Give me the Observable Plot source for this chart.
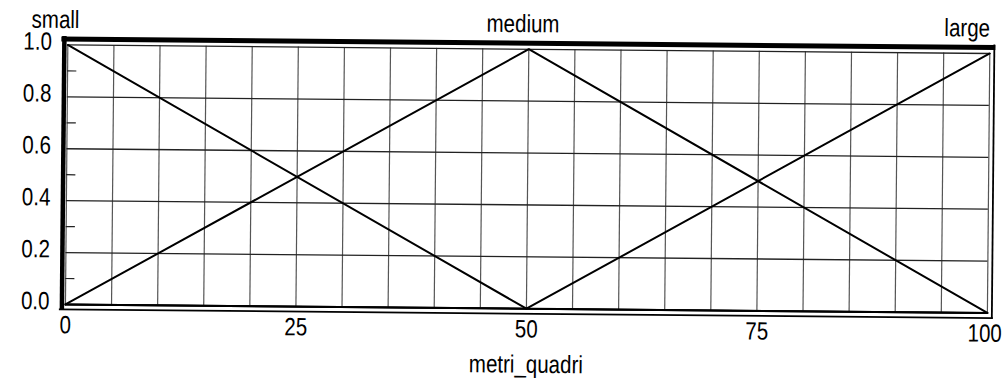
<!DOCTYPE html>
<html>
<head>
<meta charset="utf-8">
<script src="https://cdn.jsdelivr.net/npm/d3@7"></script>
<script src="https://cdn.jsdelivr.net/npm/@observablehq/plot@0.6"></script>
<style>
  html, body { margin: 0; padding: 0; background: #ffffff; }
  #wrap { width: 1007px; height: 382px; transform: rotate(0.53deg); transform-origin: 503.5px 191px; }
</style>
</head>
<body>
<div id="wrap"></div>
<script>
// membership-function names and their label positions
const mfNames = ["small", "medium", "large"];
const mfPeaks = [0, 50, 100];
// breakpoints along metri_quadri
const xPts = [0, 50, 100];
// membership values at the breakpoints
const smallVals = [1, 0, 0];
const mediumVals = [0, 1, 0];
const largeVals = [0, 0, 1];
// ticks / grid
const xTicks = [0, 25, 50, 75, 100];
const xGrid = d3.range(0, 101, 5);
const yTicks = [0, 0.2, 0.4, 0.6, 0.8, 1.0];
const yMinor = [0.1, 0.3, 0.5, 0.7, 0.9];
const xLabel = "metri_quadri";

const series = [
  {name: "small", vals: smallVals},
  {name: "medium", vals: mediumVals},
  {name: "large", vals: largeVals}
];
const lineData = series.flatMap(s => xPts.map((x, i) => ({name: s.name, x, y: s.vals[i]})));
const labelData = mfNames.map((n, i) => ({name: n, x: mfPeaks[i]}));
const labelDx = {small: -12.5, medium: -6, large: 0};

const FONT = "'Liberation Sans', Arial, sans-serif";

const chart = Plot.plot({
  width: 1007,
  height: 382,
  marginLeft: 66,
  marginRight: 19,
  marginTop: 48.5,
  marginBottom: 74,
  style: {fontFamily: FONT, fontSize: "25px", background: "#ffffff", color: "#000"},
  x: {domain: [0, 100], label: null},
  y: {domain: [0, 1], label: null},
  marks: [
    // grid
    Plot.ruleX(xGrid, {stroke: "#555", strokeWidth: 1.2}),
    Plot.ruleY(yTicks, {stroke: "#222", strokeWidth: 1.3}),
    Plot.ruleY(yMinor, {x1: 0, x2: 1, stroke: "#222", strokeWidth: 1.2}),
    // outer frame: thick top/left, thin bottom/right
    Plot.ruleY([1], {dy: -6, strokeWidth: 5, stroke: "#000", insetLeft: -6, insetRight: -6}),
    Plot.ruleX([0], {dx: -3.5, strokeWidth: 4.5, stroke: "#000", insetTop: -8.5, insetBottom: -6}),
    Plot.ruleY([0], {dy: 5, strokeWidth: 1.8, stroke: "#000", insetLeft: -6, insetRight: -6}),
    Plot.ruleX([100], {dx: 4.5, strokeWidth: 1.8, stroke: "#000", insetTop: -8.5, insetBottom: -6}),
    Plot.ruleY([0], {stroke: "#000", strokeWidth: 2}),
    // membership functions
    Plot.line(lineData, {x: "x", y: "y", z: "name", stroke: "#000", strokeWidth: 2}),
    // MF names
    ...labelData.map(d => Plot.text([d], {
      x: "x", y: () => 1, text: "name",
      textAnchor: d.name === "large" ? "end" : "middle",
      dx: labelDx[d.name], dy: -25, fontSize: 25, fill: "#000"
    })),
    // axes
    Plot.axisX(xTicks.slice(0, -1), {tickSize: 0, tickPadding: 11, fontSize: 25, label: null}),
    Plot.axisX(xTicks.slice(-1), {tickSize: 0, tickPadding: 11, fontSize: 25, label: null, dx: -2.5}),
    Plot.axisY(yTicks, {tickSize: 0, tickPadding: 16, fontSize: 25, label: null, tickFormat: d3.format(".1f"), dy: -3}),
    Plot.text([xLabel], {frameAnchor: "bottom", text: d => d, dy: 64, fontSize: 25, fill: "#000"})
  ]
});

document.getElementById("wrap").appendChild(chart);

// narrow the lettering (horizontal squeeze about each text's anchor) to match
// the condensed system font of the original
chart.querySelectorAll("text").forEach(t => {
  const x = parseFloat(t.getAttribute("x")) || 0;
  t.setAttribute("x", 0);
  const tr = t.getAttribute("transform") || "";
  t.setAttribute("transform", `${tr} translate(${x},0) scale(0.82,1)`.trim());
});
</script>
</body>
</html>
